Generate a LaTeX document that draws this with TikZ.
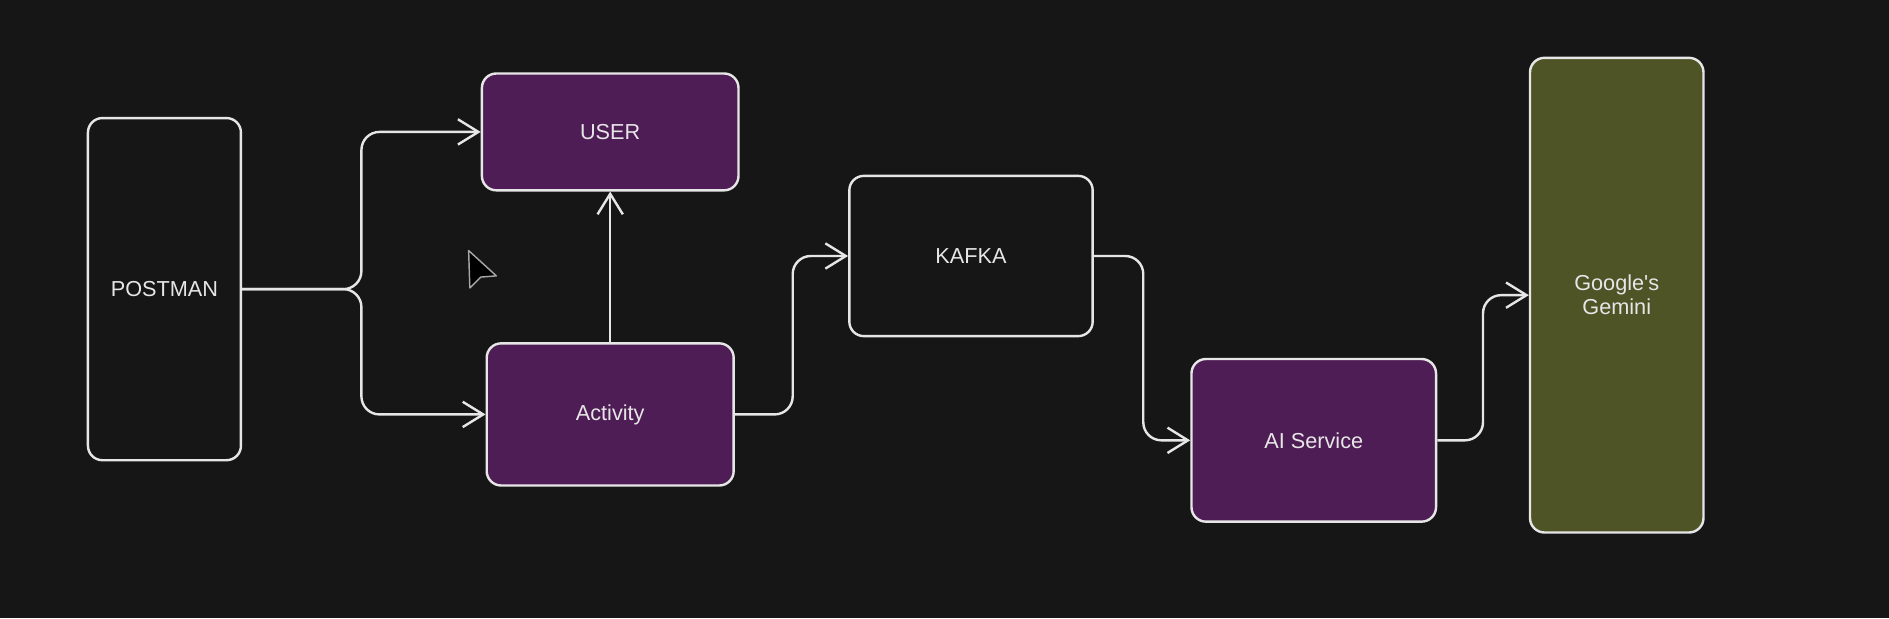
\documentclass[tikz,border=0pt]{standalone}
\usepackage{fontspec}
\setmainfont{Liberation Sans}
\usetikzlibrary{arrows.meta}
\definecolor{canvas}{HTML}{161616}
\definecolor{ink}{HTML}{E6E6E6}
\definecolor{plum}{HTML}{4F1D55}
\definecolor{moss}{HTML}{4F5427}
\tikzset{
    box/.style={draw=ink, line width=2pt, rounded corners=12pt, inner sep=0pt,
        text=ink, font=\fontsize{18}{20}\selectfont, align=center},
    servicebox/.style={box, fill=plum},
    modelbox/.style={box, fill=moss},
    link/.style={draw=ink, line width=2pt, rounded corners=15pt,
        -{Straight Barb[length=17pt,width=21pt]}},
    pointer/.style={fill=black, draw=gray!70, line width=1.2pt, line join=round},
}
\begin{document}
\begin{tikzpicture}[x=1pt, y=-1pt]

\fill[canvas] (0,0) rectangle (1568,513);
\useasboundingbox (0,0) rectangle (1568,513);

		\node[box, minimum width=127pt, minimum height=284pt] (postman) at (136.5,240) {POSTMAN};
		\node[servicebox, minimum width=213pt, minimum height=97pt] (user) at (506.5,109.5) {USER};
		\node[servicebox, minimum width=205pt, minimum height=118pt] (activity) at (506.5,344) {Activity};
		\node[box, minimum width=202pt, minimum height=133pt] (kafka) at (806,212.5) {KAFKA};
		\node[servicebox, minimum width=203pt, minimum height=135pt] (ai) at (1090.5,365.5) {AI Service};
		\node[modelbox, minimum width=144pt, minimum height=394pt] (gemini) at (1342,245) {Google\textquotesingle s\\Gemini};

		%% fork out of postman
		\draw[link] (postman.east) -- (300,240) |- (user.west);
		\draw[link] (postman.east) -- (300,240) |- (activity.west);
		\draw[link] (activity.north) -- (user.south);

		\draw[link] (activity.east) -- ++(48,0) |- (kafka.west);
		\draw[link] (kafka.east) -- ++(41,0) |- (ai.west);
		\draw[link] (ai.east) -- ++(38,0) |- (gemini.west);

		% mouse pointer
		\draw[pointer] (389,208) -- (412,229) -- (399,230) -- (390,239) -- cycle;
\end{tikzpicture}
\end{document}
